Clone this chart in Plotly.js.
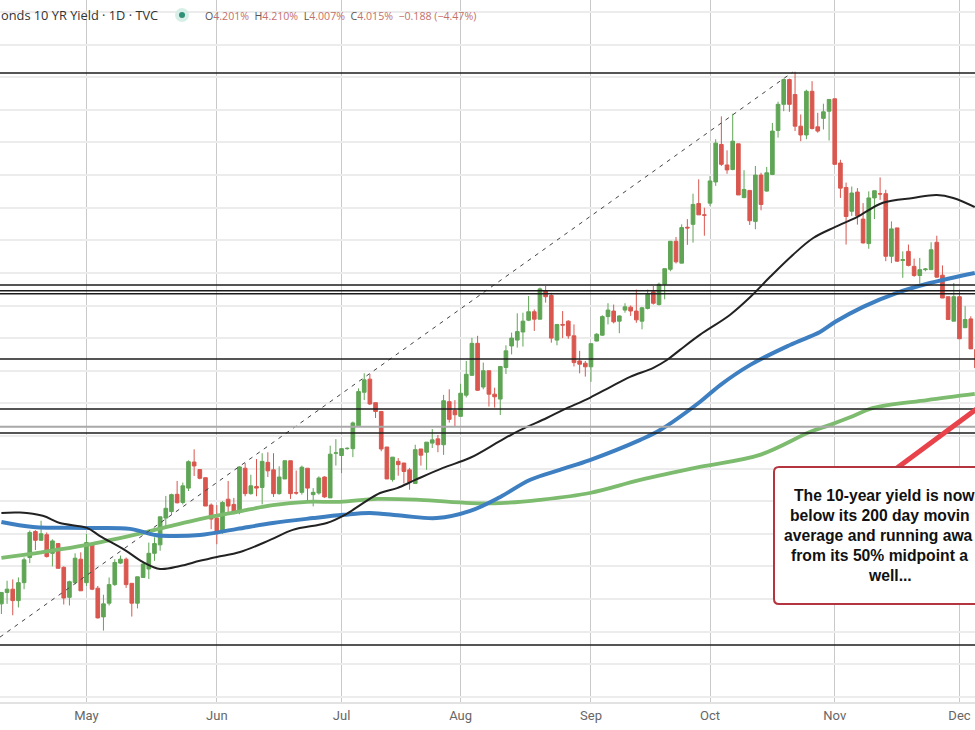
<!DOCTYPE html>
<html><head><meta charset="utf-8">
<script src="https://cdn.plot.ly/plotly-3.0.1.min.js"></script>
<style>html,body{margin:0;padding:0;background:#fff;overflow:hidden}#c{width:975px;height:730px}</style>
</head><body><div id="c"></div>
<script>
// Daily candles, one per weekday (index 0 = mid April). Yields in percent.
var opens=[3.385,3.42,3.43,3.395,3.45,3.527,3.607,3.58,3.597,3.54,3.57,3.497,3.405,3.45,3.522,3.45,3.57,3.433,3.345,3.387,3.444,3.51,3.522,3.448,3.387,3.466,3.492,3.54,3.566,3.648,3.668,3.721,3.696,3.74,3.82,3.797,3.772,3.688,3.648,3.604,3.706,3.69,3.665,3.801,3.723,3.745,3.742,3.819,3.796,3.723,3.768,3.824,3.726,3.727,3.801,3.72,3.725,3.774,3.71,3.847,3.84,3.861,3.861,3.931,4.034,4.074,4.002,3.975,3.866,3.766,3.822,3.817,3.796,3.754,3.86,3.85,3.878,3.891,3.873,4.005,3.978,3.96,4.025,4.086,4.184,4.05,4.10,4.028,4.013,4.11,4.176,4.194,4.219,4.255,4.281,4.258,4.346,4.331,4.194,4.242,4.252,4.207,4.13,4.123,4.112,4.191,4.209,4.266,4.283,4.252,4.286,4.295,4.283,4.252,4.291,4.342,4.303,4.365,4.411,4.497,4.43,4.54,4.549,4.613,4.578,4.614,4.679,4.794,4.731,4.717,4.796,4.631,4.653,4.558,4.70,4.651,4.702,4.837,4.917,4.993,4.947,4.85,4.823,4.957,4.848,4.874,4.896,4.934,4.737,4.662,4.589,4.648,4.565,4.49,4.63,4.643,4.643,4.451,4.538,4.438,4.466,4.42,4.392,4.41,4.41,4.494,4.393,4.327,4.252,4.327,4.232,4.259,4.165];
var highs=[3.42,3.456,3.46,3.466,3.527,3.61,3.611,3.64,3.604,3.583,3.57,3.50,3.456,3.54,3.543,3.60,3.57,3.44,3.413,3.466,3.522,3.533,3.527,3.448,3.468,3.512,3.573,3.589,3.652,3.716,3.723,3.762,3.757,3.825,3.859,3.797,3.772,3.693,3.688,3.70,3.762,3.71,3.807,3.817,3.781,3.829,3.847,3.85,3.847,3.807,3.824,3.824,3.794,3.809,3.801,3.74,3.776,3.776,3.87,3.89,3.863,3.865,3.944,4.046,4.092,4.09,4.002,3.975,3.866,3.835,3.832,3.817,3.802,3.873,3.86,3.881,3.921,3.903,4.026,4.043,4.01,4.06,4.13,4.201,4.207,4.125,4.10,4.048,4.113,4.178,4.217,4.276,4.278,4.329,4.288,4.355,4.36,4.339,4.242,4.283,4.255,4.242,4.161,4.13,4.183,4.215,4.27,4.307,4.303,4.27,4.307,4.30,4.349,4.296,4.349,4.36,4.37,4.413,4.497,4.51,4.549,4.565,4.643,4.687,4.60,4.697,4.81,4.88,4.776,4.888,4.796,4.715,4.653,4.728,4.707,4.725,4.86,4.925,4.996,4.996,5.017,4.886,4.962,4.988,4.891,4.919,4.932,4.934,4.747,4.677,4.665,4.66,4.614,4.65,4.652,4.693,4.655,4.558,4.538,4.466,4.487,4.444,4.446,4.415,4.494,4.514,4.423,4.327,4.369,4.349,4.298,4.267,4.17];
var lows=[3.354,3.385,3.35,3.374,3.43,3.51,3.55,3.578,3.527,3.50,3.494,3.383,3.38,3.445,3.425,3.44,3.427,3.34,3.303,3.38,3.44,3.507,3.434,3.346,3.371,3.466,3.461,3.517,3.548,3.62,3.658,3.693,3.69,3.731,3.777,3.767,3.685,3.614,3.568,3.60,3.66,3.66,3.66,3.715,3.72,3.715,3.69,3.774,3.713,3.72,3.768,3.707,3.72,3.72,3.696,3.684,3.72,3.71,3.71,3.809,3.786,3.858,3.835,3.93,4.01,3.995,3.955,3.853,3.768,3.76,3.778,3.754,3.735,3.754,3.809,3.796,3.863,3.85,3.842,3.941,3.929,3.96,4.018,4.084,4.038,4.043,3.99,3.987,3.964,4.09,4.15,4.171,4.174,4.252,4.222,4.258,4.309,4.186,4.178,4.20,4.198,4.113,4.092,4.082,4.066,4.19,4.207,4.242,4.245,4.215,4.278,4.268,4.247,4.227,4.288,4.303,4.30,4.319,4.405,4.429,4.43,4.486,4.493,4.578,4.514,4.605,4.667,4.728,4.704,4.715,4.639,4.629,4.547,4.534,4.592,4.649,4.70,4.815,4.896,4.894,4.835,4.804,4.81,4.84,4.83,4.84,4.806,4.733,4.63,4.487,4.575,4.548,4.49,4.474,4.565,4.624,4.436,4.43,4.434,4.385,4.42,4.388,4.367,4.405,4.41,4.385,4.323,4.257,4.252,4.198,4.232,4.167,4.109];
var closes=[3.42,3.43,3.395,3.45,3.52,3.604,3.58,3.60,3.53,3.578,3.494,3.403,3.453,3.525,3.425,3.573,3.43,3.342,3.385,3.444,3.512,3.522,3.444,3.387,3.468,3.507,3.54,3.57,3.652,3.678,3.72,3.695,3.747,3.821,3.808,3.77,3.685,3.645,3.601,3.696,3.685,3.665,3.805,3.723,3.747,3.74,3.822,3.793,3.723,3.774,3.824,3.723,3.725,3.804,3.74,3.727,3.771,3.713,3.844,3.848,3.861,3.862,3.94,4.036,4.072,3.998,3.975,3.86,3.768,3.835,3.812,3.791,3.758,3.858,3.841,3.881,3.888,3.873,4.008,3.951,3.965,4.031,4.089,4.184,4.04,4.10,4.028,4.02,4.113,4.161,4.20,4.22,4.252,4.281,4.258,4.351,4.327,4.20,4.242,4.24,4.207,4.125,4.12,4.112,4.183,4.212,4.266,4.286,4.25,4.268,4.296,4.283,4.256,4.293,4.334,4.307,4.365,4.413,4.497,4.434,4.539,4.538,4.61,4.578,4.577,4.682,4.798,4.733,4.716,4.804,4.639,4.656,4.56,4.70,4.61,4.707,4.835,4.917,4.993,4.917,4.85,4.823,4.957,4.843,4.835,4.894,4.932,4.733,4.66,4.573,4.645,4.575,4.492,4.63,4.652,4.642,4.451,4.535,4.436,4.441,4.423,4.392,4.41,4.412,4.471,4.387,4.323,4.257,4.327,4.198,4.257,4.167,4.109];

// Moving averages: [weekday index] and [yield]
var blackX=[0,3.3,7.3,10.3,15.1,17.4,21.8,25,28,31.5,35,38,42.1,47.4,51.4,57.4,60.6,63.8,66.8,69.8,73,77.9,82.7,88,91.5,96.2,99.1,103.8,107.4,110.9,115,117.4,119.7,123.2,128.5,132.1,135.6,139.6,143.2,147.1,151,155.5,160.8,165,167.9,171.7];
var blackY=[3.664,3.665,3.655,3.633,3.618,3.593,3.55,3.513,3.492,3.501,3.517,3.529,3.544,3.581,3.612,3.633,3.658,3.694,3.725,3.74,3.765,3.802,3.833,3.885,3.918,3.955,3.98,4.017,4.05,4.081,4.109,4.133,4.164,4.21,4.271,4.326,4.388,4.455,4.507,4.541,4.572,4.615,4.63,4.639,4.63,4.602];
var blueX=[0,5.6,15,22.7,27.1,29.7,35,41.6,47.9,55,60.3,65,70.8,76.8,82.7,88,93.2,98.5,103.8,112.7,116.2,123.2,126.8,132.1,139.1,144.4,147.1,152,158,163.8,171.7];
var blueY=[3.636,3.621,3.618,3.615,3.596,3.593,3.596,3.615,3.633,3.648,3.658,3.664,3.655,3.648,3.67,3.713,3.765,3.796,3.826,3.888,3.918,4.004,4.056,4.118,4.179,4.219,4.25,4.296,4.339,4.369,4.4];
var greenX=[0,7.3,15.1,23.2,29.2,35,41.6,47.9,53.9,59.7,66.3,73.8,82.7,88,95,103.8,112.7,123.2,133.8,142.6,146.2,149.7,153.8,163.3,171.7];
var greenY=[3.526,3.544,3.566,3.596,3.621,3.645,3.667,3.688,3.698,3.698,3.707,3.704,3.694,3.694,3.704,3.725,3.765,3.805,3.842,3.912,3.934,3.957,3.986,4.01,4.029];

var levelValues=[5.013,4.363,4.345,4.336,4.136,3.983,3.909,3.259];
var levelGray=[3.928];
var trendX=[-0.25,139.6];
var trendY=[3.283,5.016];
var monthIndex=[15,38,60,81,104,125,147,169];
var monthLabels=["May","Jun","Jul","Aug","Sep","Oct","Nov","Dec"];
// The callout runs off the right edge of the picture; only the visible letters are kept.
var calloutLines=["The 10-year yield is now","below its 200 day movin","average and running awa","from its 50% midpoint a","well..."];
var calloutLefts=[792,788,782,789,866];

var xs=closes.map(function(_,i){return i;});
var W=975,H=702;
function fx(p){return p/W;}
function fy(p){return 1-p/H;}

var traces=[
 {type:'candlestick',x:xs,open:opens,high:highs,low:lows,close:closes,hoverinfo:'skip',whiskerwidth:0,
  increasing:{line:{color:'#5FA555',width:1},fillcolor:'#5FA555'},
  decreasing:{line:{color:'#D9574F',width:1},fillcolor:'#D9574F'}},
 {type:'scatter',mode:'lines',x:greenX,y:greenY,line:{color:'#7DBB6F',width:3.8,shape:'spline'},hoverinfo:'skip'},
 {type:'scatter',mode:'lines',x:blueX,y:blueY,line:{color:'#3D7FC1',width:4,shape:'spline'},hoverinfo:'skip'},
 {type:'scatter',mode:'lines',x:blackX,y:blackY,line:{color:'#222222',width:2,shape:'spline'},hoverinfo:'skip'},
 {type:'scatter',mode:'lines',x:trendX,y:trendY,line:{color:'#444444',width:1,dash:'4px,5px'},hoverinfo:'skip'}
];

var shapes=levelGray.map(function(v){
  return {type:'line',xref:'paper',yref:'y',x0:0,x1:1,y0:v,y1:v,line:{color:'#a8a8a8',width:2}};
}).concat(levelValues.map(function(v){
  return {type:'line',xref:'paper',yref:'y',x0:0,x1:1,y0:v,y1:v,line:{color:'#1c1c1c',width:1.5}};
}));
shapes.push({type:'circle',xref:'paper',yref:'paper',x0:fx(175),x1:fx(189),y0:fy(22),y1:fy(8),fillcolor:'#d8efe8',line:{width:0}});
shapes.push({type:'circle',xref:'paper',yref:'paper',x0:fx(179),x1:fx(185),y0:fy(18),y1:fy(12),fillcolor:'#2f8f78',line:{width:0}});
shapes.push({type:'line',xref:'paper',yref:'paper',x0:fx(897),y0:fy(468),x1:fx(978),y1:fy(408),line:{color:'#E8434A',width:5}});
var l=774,t=467,r=990,b=604,c=5;
shapes.push({type:'path',xref:'paper',yref:'paper',
  path:'M '+fx(l+c)+' '+fy(t)+' L '+fx(r)+' '+fy(t)+' L '+fx(r)+' '+fy(b)+' L '+fx(l+c)+' '+fy(b)+
       ' Q '+fx(l)+' '+fy(b)+' '+fx(l)+' '+fy(b-c)+' L '+fx(l)+' '+fy(t+c)+' Q '+fx(l)+' '+fy(t)+' '+fx(l+c)+' '+fy(t)+' Z',
  fillcolor:'#ffffff',line:{color:'#B4343F',width:2}});

var val='#C4706A',lab='#555555';
function s(c,t){return '<span style="color:'+c+'">'+t+'</span>';}
var annotations=[
 {xref:'paper',yref:'paper',x:fx(160),y:fy(15),xanchor:'right',yanchor:'middle',showarrow:false,
  text:'onds 10 YR Yield · 1D · TVC',font:{family:'Open Sans, sans-serif',size:12.8,color:'#333333'}},
 {xref:'paper',yref:'paper',x:fx(203),y:fy(16),xanchor:'left',yanchor:'middle',showarrow:false,
  text:s(lab,'O')+s(val,'4.201%')+'  '+s(lab,'H')+s(val,'4.210%')+'  '+s(lab,'L')+s(val,'4.007%')+'  '+s(lab,'C')+s(val,'4.015%')+'  '+s(val,'−0.188 (−4.47%)'),
  font:{family:'Open Sans, sans-serif',size:10.6,color:val}}
];
calloutLines.forEach(function(line,i){
  annotations.push({xref:'paper',yref:'paper',x:fx(calloutLefts[i]),y:fy(495+20*i),xanchor:'left',yanchor:'middle',align:'left',showarrow:false,
    text:'<b>'+line+'</b>',font:{family:'Liberation Sans, Arial, sans-serif',size:15.7,color:'#111111'}});
});

var layout={
 width:975,height:730,margin:{l:0,r:0,t:0,b:28,pad:0},boxgap:0.08,
 paper_bgcolor:'#ffffff',plot_bgcolor:'#ffffff',showlegend:false,dragmode:false,hovermode:false,
 xaxis:{range:[-0.247,171.74],tickvals:monthIndex,ticktext:monthLabels,tickmode:'array',
  rangeslider:{visible:false},showgrid:true,gridcolor:'#c9c9c9',gridwidth:1,zeroline:false,
  showline:true,linecolor:'#e2e2e2',linewidth:2,ticks:'',ticklen:0,
  tickfont:{family:'Liberation Sans Narrow, Roboto, sans-serif',size:13,color:'#666666'}},
 yaxis:{range:[3.084,5.237],tick0:0,dtick:0.1,showticklabels:false,showgrid:true,gridcolor:'#ececec',gridwidth:2,zeroline:false,showline:false,ticks:''},
 shapes:shapes,annotations:annotations
};
Plotly.newPlot('c',traces,layout,{displayModeBar:false,staticPlot:true});
</script></body></html>
